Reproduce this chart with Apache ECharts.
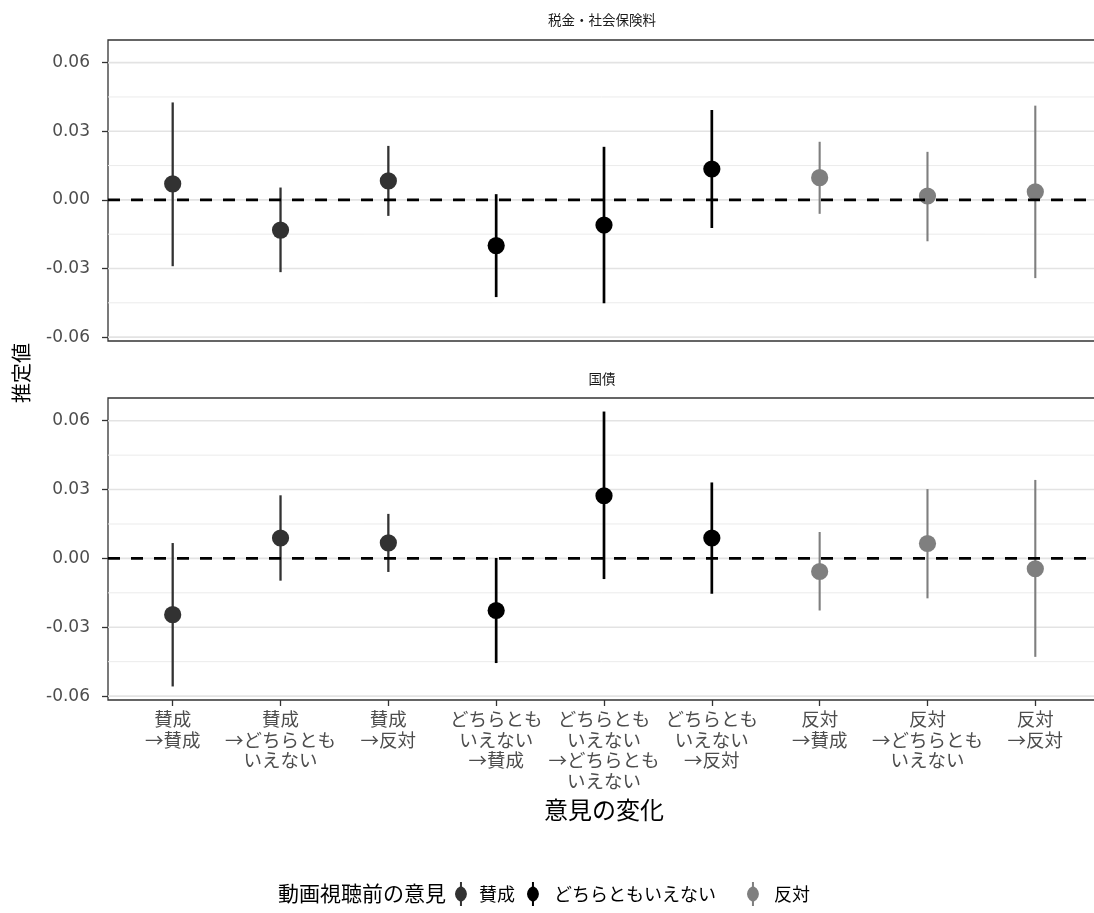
<!DOCTYPE html>
<html>
<head>
<meta charset="utf-8">
<script src="https://cdn.jsdelivr.net/npm/echarts@6/dist/echarts.min.js"></script>
<style>
  html, body { margin: 0; padding: 0; background: #ffffff; }
  #chart { width: 1094px; height: 913px; }
</style>
</head>
<body>
<div id="chart"></div>
<script>
// ---- data ----
const categories = [
  '賛成\n→賛成',
  '賛成\n→どちらとも\nいえない',
  '賛成\n→反対',
  'どちらとも\nいえない\n→賛成',
  'どちらとも\nいえない\n→どちらとも\nいえない',
  'どちらとも\nいえない\n→反対',
  '反対\n→賛成',
  '反対\n→どちらとも\nいえない',
  '反対\n→反対'
];
const groupOf = ['賛成','賛成','賛成','どちらともいえない','どちらともいえない','どちらともいえない','反対','反対','反対'];
const groupNames = ['賛成', 'どちらともいえない', '反対'];

const taxEst  = [0.0070, -0.0132, 0.0083, -0.0200, -0.0110, 0.0135, 0.0097, 0.0017, 0.0035];
const taxLow  = [-0.0290, -0.0316, -0.0070, -0.0425, -0.0452, -0.0123, -0.0061, -0.0181, -0.0342];
const taxHigh = [0.0426, 0.0054, 0.0236, 0.0025, 0.0232, 0.0393, 0.0254, 0.0210, 0.0412];

const debtEst  = [-0.0245, 0.0089, 0.0068, -0.0227, 0.0273, 0.0089, -0.0057, 0.0065, -0.0045];
const debtLow  = [-0.0558, -0.0097, -0.0059, -0.0456, -0.0090, -0.0154, -0.0227, -0.0174, -0.0429];
const debtHigh = [0.0067, 0.0275, 0.0194, 0.0002, 0.0640, 0.0331, 0.0115, 0.0302, 0.0342];

const panelTitles = ['税金・社会保険料', '国債'];
const yTicks = [-0.06, -0.03, 0.00, 0.03, 0.06];
const yMinor = [-0.045, -0.015, 0.015, 0.045];
const xTicks = [0, 1, 2, 3, 4, 5, 6, 7, 8];

// ---- styles ----
const groupColor = { '賛成': '#323232', 'どちらともいえない': '#000000', '反対': '#7f7f7f' };
const groupLineW = { '賛成': 2.3, 'どちらともいえない': 2.7, '反対': 2.1 };
const JP = '"Noto Sans CJK JP", "Noto Sans", sans-serif';
const NUM = '"DejaVu Sans", sans-serif';
const Y_MIN = -0.0617, Y_MAX = 0.0699;
const X_MIN = -0.6, X_MAX = 8.6;
const LEGEND_ICON = 'path://M7,0 L9,0 L9,4.6 A8,8 0 0 1 9,19.4 L9,24 L7,24 L7,19.4 A8,8 0 0 1 7,4.6 Z';

const grids = [
  { left: 108, width: 992, top: 40, height: 301, outerBoundsMode: 'none', containLabel: false, show: true, borderColor: '#333333', borderWidth: 1.3, backgroundColor: 'transparent' },
  { left: 108, width: 992, top: 398, height: 302, outerBoundsMode: 'none', containLabel: false, show: true, borderColor: '#333333', borderWidth: 1.3, backgroundColor: 'transparent' }
];

function xAxisFor(i) {
  const bottom = i === 1;
  return {
    type: 'value', gridIndex: i, min: X_MIN, max: X_MAX,
    axisLine: { show: false, onZero: false },
    splitLine: { show: false },
    axisTick: { show: bottom, customValues: xTicks, length: 6, lineStyle: { color: '#333333', width: 1.3 } },
    axisLabel: {
      show: bottom, customValues: xTicks, margin: 9,
      formatter: v => categories[Math.round(v)],
      fontFamily: JP, fontSize: 18.5, lineHeight: 20.5, color: '#4d4d4d', align: 'center'
    },
    name: bottom ? '意見の変化' : '', nameLocation: 'middle', nameGap: 98,
    nameTextStyle: { fontFamily: JP, fontSize: 24, color: '#000000' }
  };
}
function yAxisFor(i) {
  return {
    type: 'value', gridIndex: i, min: Y_MIN, max: Y_MAX,
    axisLine: { show: false, onZero: false },
    splitLine: { show: false },
    axisTick: { show: true, customValues: yTicks, length: 6, lineStyle: { color: '#333333', width: 1.3 } },
    axisLabel: {
      customValues: yTicks, margin: 18,
      formatter: v => v.toFixed(2),
      fontFamily: NUM, fontSize: 17, color: '#4d4d4d'
    }
  };
}

function hLineSeries(panel, values, style, z) {
  return {
    type: 'custom', xAxisIndex: panel, yAxisIndex: panel, z: z, silent: true,
    emphasis: { disabled: true },
    data: values.map(v => [X_MAX, v]),
    encode: { x: 0, y: 1 },
    renderItem: function (params, api) {
      const cs = params.coordSys;
      const y = api.coord([X_MAX, api.value(1)])[1];
      return { type: 'line', shape: { x1: cs.x, y1: y, x2: cs.x + cs.width, y2: y }, style: style };
    }
  };
}

function pointRangeSeries(panel, group, est, low, high) {
  const data = [];
  for (let i = 0; i < categories.length; i++) {
    if (groupOf[i] === group) data.push([i, est[i], low[i], high[i]]);
  }
  const color = groupColor[group];
  const lw = groupLineW[group];
  return {
    type: 'custom', name: group, xAxisIndex: panel, yAxisIndex: panel, z: 5,
    itemStyle: { color: color },
    emphasis: { disabled: true },
    data: data,
    encode: { x: 0, y: [1, 2, 3] },
    renderItem: function (params, api) {
      const x = api.value(0);
      const pE = api.coord([x, api.value(1)]);
      const pL = api.coord([x, api.value(2)]);
      const pH = api.coord([x, api.value(3)]);
      return {
        type: 'group',
        children: [
          { type: 'line', shape: { x1: pL[0], y1: pL[1], x2: pH[0], y2: pH[1] }, style: { stroke: color, lineWidth: lw } },
          { type: 'circle', shape: { cx: pE[0], cy: pE[1], r: 8.6 }, style: { fill: color } }
        ]
      };
    }
  };
}

const series = [];
const panels = [[taxEst, taxLow, taxHigh], [debtEst, debtLow, debtHigh]];
panels.forEach((d, p) => {
  series.push(hLineSeries(p, yMinor, { stroke: '#ebebeb', lineWidth: 1.0 }, 1));
  series.push(hLineSeries(p, yTicks, { stroke: '#e3e3e3', lineWidth: 1.6 }, 1));
  groupNames.forEach(g => series.push(pointRangeSeries(p, g, d[0], d[1], d[2])));
  series.push(hLineSeries(p, [0], { stroke: '#000000', lineWidth: 2.6, lineDash: [12, 11] }, 10));
});

function legendFor(name, left, pad) {
  return {
    data: [{ name: name, icon: LEGEND_ICON }],
    left: left, top: 882, padding: 0,
    itemWidth: 16, itemHeight: 24, selectedMode: false,
    textStyle: { fontFamily: JP, fontSize: 18, color: '#000000', padding: [0, 0, 0, pad] }
  };
}

const option = {
  animation: false,
  backgroundColor: '#ffffff',
  grid: grids,
  xAxis: [xAxisFor(0), xAxisFor(1)],
  yAxis: [yAxisFor(0), yAxisFor(1)],
  legend: [
    legendFor('賛成', 455, 5),
    legendFor('どちらともいえない', 527, 8),
    legendFor('反対', 747, 8)
  ],
  graphic: [
    { type: 'text', x: 602, y: 20, style: { text: panelTitles[0], font: '13.5px ' + JP, fill: '#1a1a1a', align: 'center', verticalAlign: 'middle' } },
    { type: 'text', x: 602, y: 379, style: { text: panelTitles[1], font: '13.5px ' + JP, fill: '#1a1a1a', align: 'center', verticalAlign: 'middle' } },
    { type: 'text', x: 21, y: 373, rotation: Math.PI / 2, style: { text: '推定値', font: '20px ' + JP, fill: '#000000', align: 'center', verticalAlign: 'middle' } },
    { type: 'text', x: 278, y: 893, style: { text: '動画視聴前の意見', font: '21px ' + JP, fill: '#000000', align: 'left', verticalAlign: 'middle' } }
  ],
  series: series
};

const chart = echarts.init(document.getElementById('chart'), null, { renderer: 'canvas' });
chart.setOption(option);
</script>
</body>
</html>
